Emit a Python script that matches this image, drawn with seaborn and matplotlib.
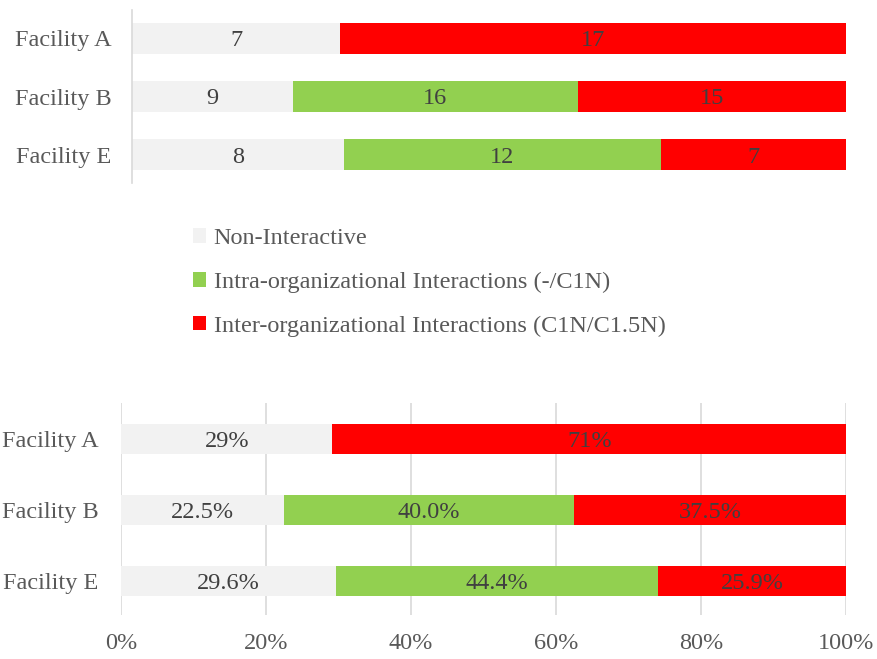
import numpy as np
import pandas as pd
import matplotlib
matplotlib.use("Agg")
import matplotlib.pyplot as plt
import seaborn as sns
from matplotlib.patches import Patch

# Interaction counts per facility
facilities = ["Facility A", "Facility B", "Facility E"]
non_interactive = [7, 9, 8]
intra_org = [0, 16, 12]
inter_org = [17, 15, 7]
pct_decimals = [0, 1, 1]          # decimals shown in the share labels, per facility
series_names = [
    "Non-Interactive",
    "Intra-organizational Interactions (-/C1N)",
    "Inter-organizational Interactions (C1N/C1.5N)",
]
series_colors = ["#f2f2f2", "#92d050", "#ff0000"]
pct_ticks = [0, 20, 40, 60, 80, 100]

sns.set_theme(style="white")
plt.rcParams["font.family"] = ["Liberation Serif"]

FS = 17.5
TICK_COLOR = "#595959"
LABEL_COLOR = "#404040"
GRID_COLOR = "#d9d9d9"

counts = np.array([non_interactive, intra_org, inter_org], dtype=float)
totals = counts.sum(axis=0)
shares = counts / totals * 100
ends = np.cumsum(shares, axis=0)
starts = ends - shares

rows = []
for s_i, name in enumerate(series_names):
    for f_i, fac in enumerate(facilities):
        rows.append({"facility": fac, "series": name, "end": ends[s_i, f_i]})
df = pd.DataFrame(rows)

palette = dict(zip(series_names, series_colors))
draw_order = series_names[::-1]   # longest (cumulative) bar first, shorter ones on top

W, H = 877, 659
fig = plt.figure(figsize=(W / 100, H / 100), dpi=100)
ax_top = fig.add_axes([132 / W, 1 - 183 / H, 714 / W, 173 / H])
ax_bot = fig.add_axes([121 / W, 1 - 615 / H, 725 / W, 212 / H])


def stacked(ax, width):
    sns.barplot(
        data=df, x="end", y="facility", hue="series",
        order=facilities, hue_order=draw_order, palette=palette,
        dodge=False, orient="h", width=width, linewidth=0,
        saturation=1, errorbar=None, legend=False, ax=ax,
    )
    ax.set_xlabel("")
    ax.set_ylabel("")
    ax.set_xlim(0, 100)


# Top: counts
stacked(ax_top, 0.53)
ax_top.set_ylim(2.48, -0.48)
ax_top.set_xticks([])
for side in ["top", "right", "bottom"]:
    ax_top.spines[side].set_visible(False)
ax_top.spines["left"].set_color(GRID_COLOR)
ax_top.spines["left"].set_linewidth(1.2)
ax_top.tick_params(axis="y", length=0, pad=15, labelsize=FS, labelcolor=TICK_COLOR)
for s_i in range(len(series_names)):
    for f_i in range(len(facilities)):
        if counts[s_i, f_i] > 0:
            ax_top.text(starts[s_i, f_i] + shares[s_i, f_i] / 2, f_i,
                        f"{int(counts[s_i, f_i])}", ha="center", va="center_baseline",
                        fontsize=FS, color=LABEL_COLOR)

# Bottom: shares
stacked(ax_bot, 0.42)
ax_bot.set_axisbelow(True)
ax_bot.set_ylim(2.48, -0.507)
ax_bot.set_xticks(pct_ticks)
ax_bot.set_xticklabels([f"{t}%" for t in pct_ticks])
ax_bot.grid(axis="x", color=GRID_COLOR, linewidth=1.2)
ax_bot.grid(axis="y", visible=False)
for side in ax_bot.spines:
    ax_bot.spines[side].set_visible(False)
ax_bot.tick_params(axis="y", length=0, pad=16, labelsize=FS, labelcolor=TICK_COLOR)
ax_bot.tick_params(axis="x", length=0, pad=13, labelsize=FS, labelcolor=TICK_COLOR)
for s_i in range(len(series_names)):
    for f_i in range(len(facilities)):
        if counts[s_i, f_i] > 0:
            ax_bot.text(starts[s_i, f_i] + shares[s_i, f_i] / 2, f_i,
                        f"{shares[s_i, f_i]:.{pct_decimals[f_i]}f}%",
                        ha="center", va="center_baseline", fontsize=FS, color=LABEL_COLOR)

handles = [Patch(facecolor=c, edgecolor="none", label=n)
           for n, c in zip(series_names, series_colors)]
fig.legend(handles=handles, loc="upper left", bbox_to_anchor=(193 / W, 1 - 228 / H),
           frameon=False, fontsize=FS, labelcolor=TICK_COLOR,
           handlelength=0.55, handleheight=0.55, handletextpad=0.3,
           labelspacing=0.93, borderaxespad=0, borderpad=0)

fig.savefig("out.png", dpi=100)
